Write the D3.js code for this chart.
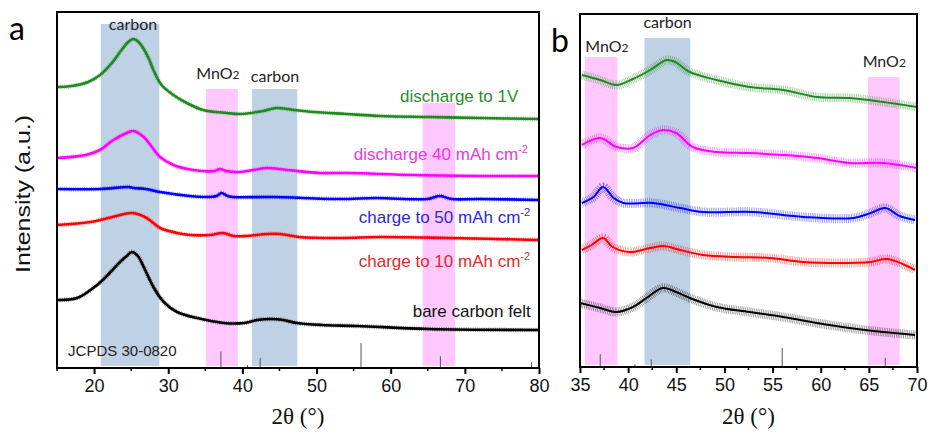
<!DOCTYPE html>
<html><head><meta charset="utf-8">
<script src="https://cdn.jsdelivr.net/npm/d3@7"></script>
<style>
html,body{margin:0;padding:0;background:#fff;}
svg{display:block;}
.sans{font-family:"Liberation Sans", Arial, sans-serif;}
.serif{font-family:"Liberation Serif", "Times New Roman", "DejaVu Serif", serif;}
.hum{font-family:Lato, "Open Sans", sans-serif;}
</style></head>
<body>
<svg id="chart" width="930" height="437"></svg>
<script>
// ---------------- DATA ----------------
// Panel a series: [2theta, intensity (a.u.)]
const aGreen = [[15,281],[17,282],[19.2,286],[20.8,293],[22.4,305],[23.7,318],[24.6,326],[25.3,329],[26.0,326],[26.7,319],[27.4,309],[28,298],[29.1,283],[30.7,273],[32.5,265],[34.7,258],[37.9,255],[39.7,254],[42.8,257],[44.6,260],[46.9,258],[49.6,256],[54,254],[58.6,252],[65.3,251],[72,250],[80,249]];
const aMagenta = [[15,210],[18.9,213],[20.8,218],[22.6,228],[24.4,235],[25.3,237],[26.7,231],[27.8,221],[28.9,211],[30.7,203],[33.4,198],[36.2,197],[37,199],[37.8,197],[39.7,196],[41.5,198],[43.3,200],[46,198],[50.5,195],[54.1,195],[63,193],[72,192],[80,192]];
const aBlue = [[15,179],[20.8,179],[24.7,181],[25.3,180],[27,179],[28.9,176],[32.9,172],[35.2,171],[36.5,172],[37.2,175],[38,172],[38.7,171],[44.1,171],[53.2,169],[58,170],[65,169],[66.6,172],[68.2,169],[72,169],[80,168]];
const aRed = [[15,143],[19.5,146],[22.5,151],[25.2,155],[27.1,150],[28.9,140],[31.2,135],[33,133],[35.6,133],[37.4,135],[38.8,132],[40.5,132],[43.3,134],[45.1,134],[47.6,131],[53.2,130],[58.6,131],[67.6,130],[80,128]];
const aBlack = [[15,68],[17.7,70],[20.4,83],[22.1,95],[23.5,106],[24.4,112],[25.1,116],[25.9,112],[26.7,101],[28,81],[29.4,66],[31.2,56],[33.9,50],[37.5,45],[40.2,45],[42,48],[43.9,49],[45.5,48],[47.3,45],[50.7,43],[55.5,42],[65.1,39],[80,38]];

// Panel b series: [2theta, intensity (a.u.)]
const bGreen = [[35.2,292],[37.1,287],[38.8,282],[40.5,288],[42.3,297],[44,307],[44.9,305],[46.4,295],[49.2,287],[52.6,280],[56.1,277],[59.6,270],[63,269],[66.5,265],[70,260]];
const bMagenta = [[35.2,222],[37.1,229],[38.8,220],[40.5,219],[42.3,232],[43.6,237],[45,234],[46.7,220],[49.2,215],[52.6,214],[56.1,212],[59.6,209],[63,204],[66.5,204],[70,199]];
const bBlue = [[35.2,164],[36.4,170],[37.4,180],[38.5,169],[39.5,164],[42.6,164],[45.4,159],[47.8,155],[53,155],[58.2,150],[63.4,149],[65.2,154],[66.7,159],[68.2,151],[69.8,147]];
const bRed = [[35.2,117],[36.2,122],[37.4,129],[38.4,120],[40.2,115],[42.3,119],[43.7,121],[45.4,117],[47.8,112],[51.3,110],[54.7,109],[58.2,105],[61.7,104],[65.2,105],[66.9,108],[69.8,97]];
const bBlack = [[35,64],[37.1,59],[38.8,55],[40.5,60],[41.9,69],[43.6,79],[45,75],[46.4,69],[49.2,60],[52.6,55],[56.1,50],[59.6,44],[63,39],[66.5,35],[69.8,32]];

const seriesNames = ["discharge to 1V","discharge 40 mAh cm","charge to 50 mAh cm","charge to 10 mAh cm","bare carbon felt"];
const seriesSup = ["","-2","-2","-2",""];
const seriesColors = ["#1e8a1e","#ff00ff","#0000ff","#ff0000","#000000"];
const labelColors = ["#2e8b2e","#ee33ee","#2a2ad0","#e02a2a","#111111"];
// label anchor (right end) in 2theta and baseline in intensity units (panel a)
const labelX = [77.2, 78.5, 78.8, 78.8, 78.9];
const labelY = [266, 208, 145, 101, 51];

// shaded regions: [from, to, top intensity, kind]
const bandsA = [[20.9,28.8,344,"carbon"],[35.1,39.4,279,"MnO2"],[41.3,47.4,279,"carbon"],[64.3,68.7,265,"MnO2"]];
const bandsB = [[35.5,38.9,310,"MnO2"],[41.7,46.45,329,"carbon"],[64.9,68.2,290,"MnO2"]];
// band annotations: [2theta center, baseline intensity, kind]
const notesA = [[25.25,338,"carbon"],[36.7,289,"MnO2"],[44.4,286,"carbon"]];
const notesB = [[37.8,315,"MnO2"],[44.1,339,"carbon"],[66.6,300,"MnO2"]];

// JCPDS 30-0820 reference lines: [2theta, relative intensity]
const jcpds = [[37.1,65],[40.7,8],[42.4,37],[56.0,100],[66.7,45],[79.0,20]];

const ticksA = [20,30,40,50,60,70,80];
const ticksB = [35,40,45,50,55,60,65,70];

// ---------------- DRAW ----------------
const svg = d3.select("#chart");
const colors = {carbon:"#bfd1e5", MnO2:"#ffc9ff"};

function panel(opt){
  const g = svg.append("g");
  const x = d3.scaleLinear().domain(opt.xd).range([opt.left,opt.right]);
  const y = d3.scaleLinear().domain([0,opt.ymax]).range([opt.bottom,opt.top]);
  const stick = d3.scaleLinear().domain([0,100]).range([0,opt.stickMax]);

  g.selectAll("rect.band").data(opt.bands).join("rect")
    .attr("x",d=>x(d[0])).attr("width",d=>x(d[1])-x(d[0]))
    .attr("y",d=>y(d[2])).attr("height",d=>y(2)-y(d[2]))
    .attr("fill",d=>colors[d[3]]);

  g.selectAll("line.stick").data(jcpds.filter(d=>d[0]>=opt.xd[0]&&d[0]<=opt.xd[1])).join("line")
    .attr("x1",d=>x(d[0])).attr("x2",d=>x(d[0]))
    .attr("y1",opt.bottom-1).attr("y2",d=>opt.bottom-1-stick(d[1]))
    .attr("stroke","#555").attr("stroke-width",1);

  const line = d3.line().x(d=>x(d[0])).y(d=>y(d[1])).curve(d3.curveCatmullRom.alpha(0.5));
  opt.series.forEach((s,i)=>{
    if(opt.fuzz>0){
      g.append("path").attr("d",line(s)).attr("fill","none")
        .attr("stroke",seriesColors[i]).attr("stroke-width",opt.fuzz)
        .attr("stroke-dasharray","0.7 1.1").attr("opacity",0.5);
    }
    g.append("path").attr("d",line(s)).attr("fill","none")
      .attr("stroke",seriesColors[i]).attr("stroke-width",opt.lw).attr("stroke-linejoin","round");
  });

  opt.notes.forEach(n=>{
    const t = g.append("text").attr("class","hum").attr("x",x(n[0])).attr("y",y(n[1]))
      .attr("text-anchor","middle").style("font-size","16px").attr("fill","#222");
    if(n[2]==="MnO2"){
      t.append("tspan").text("MnO");
      t.append("tspan").style("font-size","12px").text("2");
    } else t.text(n[2]);
  });

  g.append("rect").attr("x",opt.left).attr("y",opt.top)
    .attr("width",opt.right-opt.left).attr("height",opt.bottom-opt.top)
    .attr("fill","none").attr("stroke","#000").attr("stroke-width",2);

  const ax = g.append("g").attr("transform",`translate(0,${opt.bottom})`)
    .call(d3.axisBottom(x).tickValues(opt.ticks).tickSize(6).tickSizeOuter(0).tickPadding(5).tickFormat(d3.format("d")));
  ax.attr("font-family",null).attr("font-size",null);
  ax.select(".domain").remove();
  ax.selectAll(".tick line").attr("stroke","#000").attr("stroke-width",2);
  ax.selectAll(".tick text").attr("class","sans").style("font-size","18px").attr("fill","#111");
  const minor = d3.range(opt.xd[0], opt.xd[1]+0.001, opt.minorStep).filter(v=>!opt.ticks.includes(v));
  g.selectAll("line.minor").data(minor).join("line")
    .attr("x1",d=>x(d)).attr("x2",d=>x(d)).attr("y1",opt.bottom).attr("y2",opt.bottom+3)
    .attr("stroke","#000").attr("stroke-width",1.5);

  g.append("text").attr("class","serif").attr("x",(opt.left+opt.right)/2).attr("y",424)
    .attr("text-anchor","middle").style("font-size","23px").attr("fill","#111")
    .text("2\u03B8 (\u00B0)");
  return {x,y};
}

const A = panel({xd:[15,80], left:57, right:539, top:12, bottom:368, ymax:356,
  bands:bandsA, notes:notesA, series:[aGreen,aMagenta,aBlue,aRed,aBlack],
  fuzz:4.5, lw:2.6, stickMax:24, ticks:ticksA, minorStep:5});
const B = panel({xd:[35,70], left:580, right:917, top:14, bottom:367, ymax:353,
  bands:bandsB, notes:notesB, series:[bGreen,bMagenta,bBlue,bRed,bBlack],
  fuzz:9, lw:2, stickMax:18, ticks:ticksB, minorStep:2.5});

seriesNames.forEach((n,i)=>{
  const t = svg.append("text").attr("class","sans").attr("x",A.x(labelX[i])).attr("y",A.y(labelY[i]))
    .attr("text-anchor","end").style("font-size","17px").attr("fill",labelColors[i]);
  t.append("tspan").text(n);
  if(seriesSup[i]) t.append("tspan").style("font-size","11px").attr("dy",-7).text(seriesSup[i]);
});

svg.append("text").attr("class","sans").attr("x",A.x(16.5)).attr("y",A.y(12))
  .style("font-size","15px").attr("fill","#222").text("JCPDS 30-0820");

svg.append("text").attr("class","sans").attr("transform","translate(30,194) rotate(-90)")
  .attr("text-anchor","middle").style("font-size","20px").attr("fill","#111")
  .attr("textLength",158).attr("lengthAdjust","spacingAndGlyphs").text("Intensity (a.u.)");

svg.append("text").attr("class","hum").attr("x",9).attr("y",40)
  .style("font-size","32px").attr("fill","#000").text("a");
svg.append("text").attr("class","hum").attr("x",551).attr("y",52)
  .style("font-size","32px").attr("fill","#000").text("b");
</script>
</body></html>
